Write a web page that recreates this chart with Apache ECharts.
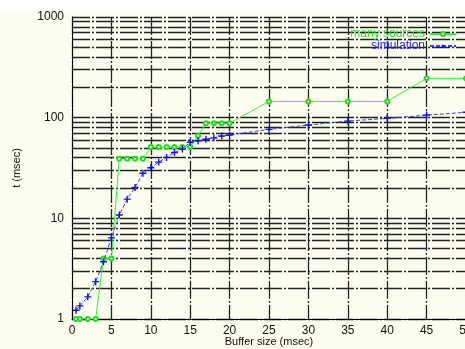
<!DOCTYPE html>
<html>
<head>
<meta charset="utf-8">
<script src="https://cdn.jsdelivr.net/npm/echarts@6/dist/echarts.min.js"></script>
<style>
  html, body { margin: 0; padding: 0; background: #ffffff; }
  #container { position: absolute; left: 0; top: 10px; width: 465px; height: 339px; }
</style>
</head>
<body>
<div id="container"></div>
<script>
// buffer size (msec) / t (msec)
var bufferMany = [0.5, 1, 2, 3, 4, 5, 6, 7, 8, 9, 10, 11, 12, 13, 14, 15, 16, 17, 18, 19, 20, 25, 30, 35, 40, 45, 50];
var tMany = [1, 1, 1, 1, 4, 4, 39, 39, 39, 39, 51, 51, 51, 51, 51, 51, 66, 88, 88, 88, 88, 145, 145, 145, 145, 246, 246];
var bufferSim = [0.5, 1, 2, 3, 4, 5, 6, 7, 8, 9, 10, 11, 12, 13, 14, 15, 16, 17, 18, 19, 20, 25, 30, 35, 40, 45, 50];
var tSim = [1.22, 1.35, 1.66, 2.35, 3.7, 6.4, 10.8, 15.5, 20.3, 28, 31.8, 36.2, 40.3, 45.1, 48.7, 57, 59, 61, 63, 65.7, 67.2, 76.5, 84.5, 92.5, 98.4, 106, 113];
var seriesNames = ['many sources', 'simulation'];
var yMinorLines = [2, 3, 4, 5, 6, 7, 8, 9, 20, 30, 40, 50, 60, 70, 80, 90, 200, 300, 400, 500, 600, 700, 800, 900];

function pairs(xs, ys) {
    var res = [];
    for (var i = 0; i < xs.length; i++) res.push([xs[i], ys[i]]);
    return res;
}

var gridLine = { color: '#222', width: 1.3, type: [18, 2, 2, 2] };
var fontFam = '"Liberation Sans", Arial, sans-serif';
var plus = 'path://M2,0H3V2H5V3H3V5H2V3H0V2H2Z';

var chart = echarts.init(document.getElementById('container'));
var option = {
    backgroundColor: '#fdfdef',
    animation: false,
    grid: { left: 72, right: -1, top: 7, bottom: 30, outerBoundsMode: 'none', containLabel: false },
    legend: {
        orient: 'vertical',
        align: 'right',
        right: 8,
        top: 18,
        padding: 0,
        itemGap: 0,
        itemWidth: 26,
        itemHeight: 5,
        textStyle: { fontFamily: fontFam, fontSize: 12, lineHeight: 12, padding: [0, 0, 0, 0] },
        data: [
            { name: seriesNames[0], textStyle: { color: '#22dd22' } },
            { name: seriesNames[1], textStyle: { color: '#2222ee' } }
        ]
    },
    xAxis: {
        type: 'value',
        min: 0,
        max: 50,
        interval: 5,
        name: 'Buffer size (msec)',
        nameLocation: 'middle',
        nameGap: 17,
        nameMoveOverlap: false,
        nameTextStyle: { fontFamily: fontFam, fontSize: 11, color: '#111' },
        axisLine: { lineStyle: { color: '#000', width: 1 } },
        axisTick: { show: false },
        axisLabel: { fontFamily: fontFam, fontSize: 12, color: '#111', margin: 6 },
        splitLine: { show: true, lineStyle: gridLine }
    },
    yAxis: {
        type: 'log',
        logBase: 10,
        min: 1,
        max: 1000,
        name: 't (msec)',
        nameLocation: 'middle',
        nameGap: 50,
        nameMoveOverlap: false,
        nameTextStyle: { fontFamily: fontFam, fontSize: 11, color: '#111' },
        axisLine: { lineStyle: { color: '#000', width: 1 } },
        axisTick: { show: false },
        axisLabel: {
            fontFamily: fontFam, fontSize: 12, color: '#111', margin: 8,
            formatter: function (v) { return String(Math.round(v)); }
        },
        splitLine: { show: true, lineStyle: gridLine }
    },
    series: [
        {
            name: seriesNames[0],
            type: 'line',
            data: pairs(bufferMany, tMany),
            symbol: 'emptyCircle',
            symbolSize: 4,
            lineStyle: { color: '#33ee33', width: 1 },
            itemStyle: { color: '#22dd22', borderWidth: 1 },
            z: 3,
            markLine: {
                silent: true,
                symbol: 'none',
                label: { show: false },
                lineStyle: gridLine,
                z: 1,
                data: yMinorLines.map(function (v) { return { yAxis: v }; })
            }
        },
        {
            name: seriesNames[1],
            type: 'line',
            data: pairs(bufferSim, tSim),
            symbol: plus,
            symbolSize: 7,
            lineStyle: { color: '#3344ee', width: 1, type: [4, 2] },
            itemStyle: { color: '#1111ee' },
            z: 4
        }
    ]
};
chart.setOption(option);
</script>
</body>
</html>
